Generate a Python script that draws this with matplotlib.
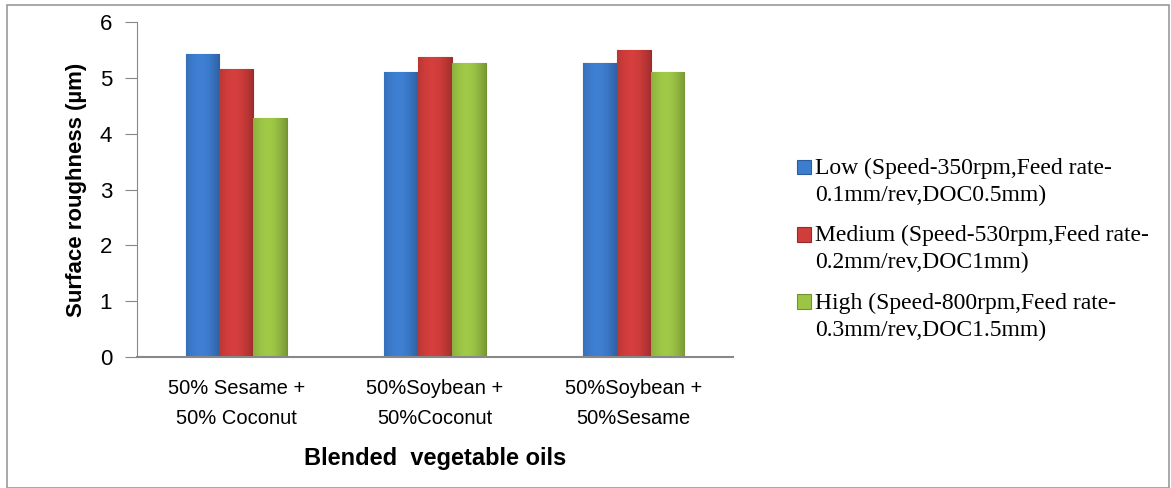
import matplotlib.pyplot as plt
import numpy as np
from matplotlib.patches import Rectangle
from matplotlib.colors import to_rgb
from matplotlib.container import BarContainer
from matplotlib.legend_handler import HandlerPatch, update_from_first_child

# ---------------- data ----------------
oils = ['50% Sesame +\n50% Coconut', '50%Soybean +\n50%Coconut', '50%Soybean +\n50%Sesame']
series = ['Low (Speed-350rpm,Feed rate-\n0.1mm/rev,DOC0.5mm)',
          'Medium (Speed-530rpm,Feed rate-\n0.2mm/rev,DOC1mm)',
          'High (Speed-800rpm,Feed rate-\n0.3mm/rev,DOC1.5mm)']
low = [5.43, 5.11, 5.26]
medium = [5.16, 5.37, 5.50]
high = [4.28, 5.27, 5.10]
yticks = [0, 1, 2, 3, 4, 5, 6]

colors = ['#3d7dcf', '#d03d3b', '#9cc545']
edges = ['#2b5c9c', '#962b29', '#6e9330']

sans = ['Liberation Sans', 'DejaVu Sans']

fig = plt.figure(figsize=(11.71, 4.88), dpi=100)
ax = fig.add_axes([0.117, 0.268, 0.509, 0.687])

x = np.arange(len(oils))
w = 0.17
t = np.linspace(0, 1, 40)
shade = 0.9 + 0.18 * np.sin(np.pi * t) - 0.12 * t
for i, vals in enumerate([low, medium, high]):
    bars = ax.bar(x + (i - 1) * w, vals, w, color=colors[i], edgecolor=edges[i],
                  linewidth=0.8, label=series[i], zorder=3)
    # soft shading across each bar
    rgb = np.clip(np.outer(shade, to_rgb(colors[i])), 0, 1)[None, :, :]
    for b in bars:
        im = ax.imshow(rgb, extent=(b.get_x(), b.get_x() + b.get_width(), 0, b.get_height()),
                       aspect='auto', zorder=3.5, interpolation='bilinear')
        im.set_clip_path(b)

ax.set_xlim(-0.5, 2.5)
ax.set_ylim(0, 6)
ax.set_yticks(yticks)
ax.set_xticks(x)
ax.set_xticklabels(oils, fontsize=14.5, family=sans, linespacing=1.7)
for lab in ax.get_yticklabels():
    lab.set_fontsize(16)
    lab.set_family(sans)
ax.tick_params(axis='x', length=0, pad=16)
ax.tick_params(axis='y', length=9, color='#888888', pad=9)
for s in ['top', 'right']:
    ax.spines[s].set_visible(False)
ax.spines['left'].set_color('#888888')
ax.spines['bottom'].set_color('#888888')
ax.spines['bottom'].set_linewidth(1.5)
ax.spines['bottom'].set_zorder(5)

ax.set_ylabel('Surface roughness (µm)', fontsize=16, fontweight='bold', family=sans, labelpad=9)
ax.set_xlabel('Blended  vegetable oils', fontsize=17, fontweight='bold', family=sans, labelpad=14)


def top_square(legend, orig_handle, xdescent, ydescent, width, height, fontsize):
    # put the key next to the first text line
    return Rectangle((-xdescent, -ydescent + 0.62 * fontsize), width, height)


leg = ax.legend(loc='center left', bbox_to_anchor=(1.072, 0.322), frameon=False,
                prop={'family': 'Liberation Serif', 'size': 17},
                handlelength=0.57, handleheight=0.57, handletextpad=0.2,
                labelspacing=0.82,
                handler_map={BarContainer: HandlerPatch(patch_func=top_square,
                                                        update_func=update_from_first_child)})
for txt in leg.get_texts():
    txt.set_linespacing(1.35)

# chart border
fig.patches.append(Rectangle((0.006, 0.0), 0.992, 0.99, transform=fig.transFigure,
                             fill=False, edgecolor='#999999', linewidth=1.2))

fig.savefig('out.png', dpi=100)
